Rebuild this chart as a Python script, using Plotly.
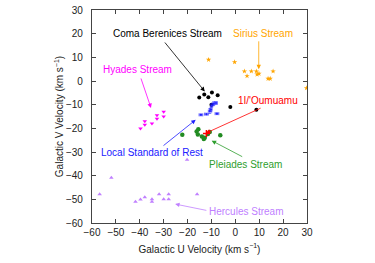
import plotly.graph_objects as go

# ---- data (Galactic U, V velocities, km/s) ----
coma_u = [-15.1, -13.0, -11.3, -9.8, -7.4, -10.0, -2.1, 8.8]
coma_v = [-7.0, -5.7, -6.9, -4.9, -6.0, -10.0, -11.0, -12.2]

lsr_u = [-14.4, -12.1, -10.7, -9.9, -9.1, -8.1, -7.7, -10.2]
lsr_v = [-14.3, -14.0, -12.7, -10.3, -9.6, -9.3, -13.8, -12.0]
lsr_ex = [0.8, 0.8, 0.6, 0.5, 0.5, 0.6, 0.8, 0.5]
lsr_ey = [0.4, 0.4, 1.0, 0.8, 0.8, 0.6, 0.4, 1.0]

pleiades_u = [-22.2, -16.2, -15.5, -15.7, -14.0, -12.8, -11.5, -10.7, -6.3, -13.2]
pleiades_v = [-22.7, -21.3, -20.4, -22.6, -23.4, -24.0, -22.4, -21.6, -22.9, -24.5]

oumuamua_u = [-12.1]
oumuamua_v = [-22.2]

sirius_u = [-11.2, -0.3, 3.8, 4.9, 6.7, 8.8, 9.1, 9.9, 13.7, 14.6, 15.8, 29.8]
sirius_v = [9.0, 8.0, 4.1, 2.1, 4.1, 4.1, 2.8, 3.1, 1.0, 1.0, 4.1, -3.0]

hyades_u = [-39.7, -37.9, -37.9, -34.9, -32.8, -32.8, -30.0, -30.0]
hyades_v = [-20.1, -17.0, -18.5, -18.0, -14.5, -16.0, -13.0, -15.0]

hercules_u = [-56.8, -51.9, -41.8, -39.7, -37.9, -34.9, -34.9, -31.9, -30.0, -27.9, -27.9, -16.0, -20.2]
hercules_v = [-47.9, -40.9, -51.0, -50.1, -49.1, -50.0, -51.0, -47.9, -50.0, -47.9, -50.0, -47.9, -33.3]

x_ticks = [-60, -50, -40, -30, -20, -10, 0, 10, 20, 30]
y_ticks = [30, 20, 10, 0, -10, -20, -30, -40, -50, -60]

BLACK = "#000000"
ORANGE = "#FFA500"
MAGENTA = "#FF00FF"
RED = "#FF0000"
BLUE = "#2020FF"
GREEN = "#228B22"
GREEN_TXT = "#2E9E2E"
PURPLE = "#C080FF"

fig = go.Figure()

fig.add_trace(go.Scatter(x=hercules_u, y=hercules_v, mode="markers",
                         marker=dict(symbol="triangle-up", size=4, color=PURPLE)))
fig.add_trace(go.Scatter(x=hyades_u, y=hyades_v, mode="markers",
                         marker=dict(symbol="triangle-down", size=4, color=MAGENTA)))
fig.add_trace(go.Scatter(x=sirius_u, y=sirius_v, mode="markers",
                         marker=dict(symbol="star", size=4, color=ORANGE)))
fig.add_trace(go.Scatter(x=coma_u, y=coma_v, mode="markers",
                         marker=dict(symbol="circle", size=4, color=BLACK)))
fig.add_trace(go.Scatter(x=lsr_u, y=lsr_v, mode="markers",
                         marker=dict(symbol="circle", size=2, color=BLUE),
                         error_x=dict(type="data", array=lsr_ex, color=BLUE, thickness=0.6, width=1.5),
                         error_y=dict(type="data", array=lsr_ey, color=BLUE, thickness=0.6, width=1.5)))
fig.add_trace(go.Scatter(x=pleiades_u, y=pleiades_v, mode="markers",
                         marker=dict(symbol="circle", size=4.5, color=GREEN)))
fig.add_trace(go.Scatter(x=oumuamua_u, y=oumuamua_v, mode="markers",
                         marker=dict(symbol="cross-thin", size=5, color=RED,
                                     line=dict(color=RED, width=1.5))))

FONT = "Liberation Sans, Arial, sans-serif"

labels = [
    ("Coma Berenices Stream", -28.5, 20.0, BLACK, (-30.0, 16.9), (-12.8, -4.4)),
    ("Sirius Stream", 11.6, 20.0, ORANGE, (9.8, 17.4), (9.8, 5.0)),
    ("Hyades Stream", -41.1, 4.8, MAGENTA, (-39.7, 1.7), (-35.3, -11.4)),
    ("1I/'Oumuamu", 13.8, -8.4, RED, (11.2, -11.2), (-12.3, -22.0)),
    ("Local Standard of Rest", -34.8, -30.2, BLUE, (-30.7, -27.8), (-16.6, -16.4)),
    ("Pleiades Stream", 4.4, -35.1, GREEN_TXT, (3.5, -32.3), (-9.9, -25.2)),
    ("Hercules Stream", 4.4, -55.2, PURPLE, (-11.5, -54.8), (-25.2, -52.0)),
]

annotations = []
for text, tx, ty, col, (sx, sy), (ex, ey) in labels:
    annotations.append(dict(x=tx, y=ty, xref="x", yref="y", text=text, showarrow=False,
                            font=dict(family=FONT, size=10, color=col)))
    annotations.append(dict(x=ex, y=ey, ax=sx, ay=sy, xref="x", yref="y", axref="x", ayref="y",
                            text="", showarrow=True, arrowhead=2, arrowsize=1.1,
                            arrowwidth=0.8, arrowcolor=col))

fig.update_layout(
    width=375, height=263,
    margin=dict(l=92, r=68, t=10, b=40, autoexpand=False),
    paper_bgcolor="white", plot_bgcolor="white",
    showlegend=False,
    font=dict(family=FONT, size=10, color="#222"),
    annotations=annotations,
)

axis_common = dict(showgrid=False, zeroline=False, showline=True, linecolor="#444",
                   linewidth=1.2, mirror="ticks", ticks="inside", ticklen=4,
                   tickcolor="#444", tickwidth=1, automargin=False,
                   tickfont=dict(family=FONT, size=10, color="#222"))

fig.update_xaxes(range=[-60, 30], tickvals=x_ticks, ticktext=[f"{v}".replace("-", "\u2212") for v in x_ticks],
                 title=dict(text="Galactic U Velocity (km s<sup>\u22121</sup>)", font=dict(family=FONT, size=10, color="#222"),
                            standoff=8),
                 **axis_common)
fig.update_yaxes(range=[-60, 30], tickvals=y_ticks, ticktext=[f"{v}".replace("-", "\u2212") for v in y_ticks],
                 title=dict(text="Galactic V Velocity (km s<sup>\u22121</sup>)", font=dict(family=FONT, size=10, color="#222"),
                            standoff=0),
                 ticklabelstandoff=6,
                 **axis_common)

fig.write_html("out.html", config={"displayModeBar": False},
               post_script="document.body.style.margin='0';")
